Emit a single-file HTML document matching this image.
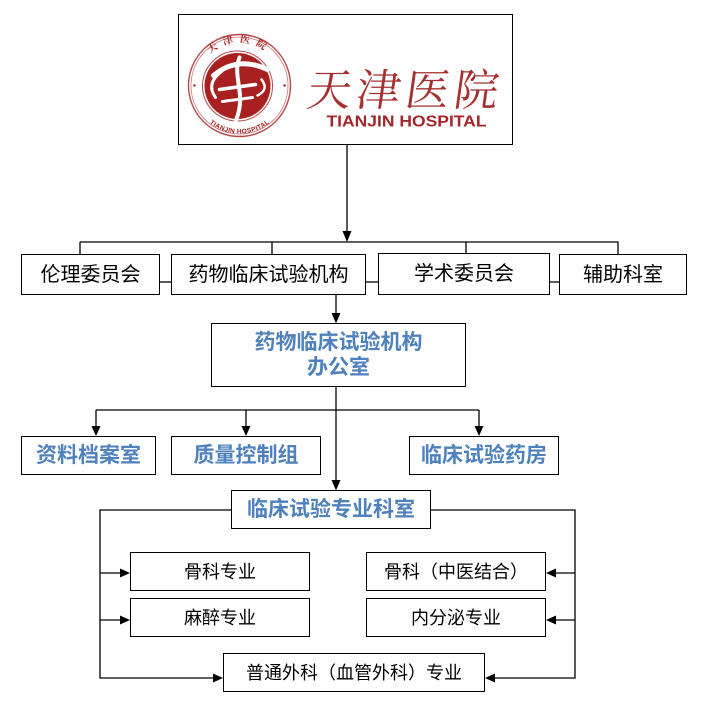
<!DOCTYPE html>
<html>
<head>
<meta charset="utf-8">
<style>
  html,body{margin:0;padding:0;background:#fff;}
  body{width:712px;height:710px;position:relative;overflow:hidden;font-family:"Liberation Sans","Noto Sans CJK SC",sans-serif;}
  .b{position:absolute;box-sizing:border-box;border:1.5px solid #000;background:#fff;display:flex;align-items:center;justify-content:center;line-height:1;color:#000;white-space:nowrap;}
  .t1{font-size:20px;}
  .blue{color:#4f81bd;font-weight:bold;font-size:21px;}
  .t3{font-size:18px;}
  svg.lines{position:absolute;left:0;top:0;}
</style>
</head>
<body>
<svg class="lines" width="712" height="710" viewBox="0 0 712 710">
  <g stroke="#000" stroke-width="1.3" fill="none">
    <line x1="347" y1="145" x2="347" y2="233"/>
    <line x1="80" y1="242" x2="618.5" y2="242"/>
    <line x1="80" y1="242" x2="80" y2="254"/>
    <line x1="272" y1="242" x2="272" y2="254"/>
    <line x1="466" y1="242" x2="466" y2="254"/>
    <line x1="618" y1="242" x2="618" y2="254"/>
    <line x1="160" y1="282" x2="171" y2="282"/>
    <line x1="366" y1="282" x2="378" y2="282"/>
    <line x1="550" y1="282" x2="559" y2="282"/>
    <line x1="336" y1="295" x2="336" y2="315"/>
    <line x1="336" y1="387" x2="336" y2="482"/>
    <line x1="96" y1="410" x2="479" y2="410"/>
    <line x1="96" y1="410" x2="96" y2="428"/>
    <line x1="246" y1="410" x2="246" y2="428"/>
    <line x1="479" y1="410" x2="479" y2="428"/>
    <polyline points="231,510 100,510 100,678 215,678"/>
    <line x1="100" y1="573" x2="122" y2="573"/>
    <line x1="100" y1="620" x2="122" y2="620"/>
    <polyline points="431,510 575,510 575,678 493,678"/>
    <line x1="575" y1="573" x2="554" y2="573"/>
    <line x1="575" y1="620" x2="554" y2="620"/>
  </g>
  <g fill="#000">
    <polygon points="342.5,231 351.5,231 347,242"/>
    <polygon points="331.5,313 340.5,313 336,323.5"/>
    <polygon points="331.5,480 340.5,480 336,490.5"/>
    <polygon points="91.5,426 100.5,426 96,436"/>
    <polygon points="241.5,426 250.5,426 246,436"/>
    <polygon points="474.5,426 483.5,426 479,436"/>
    <polygon points="120,568.5 120,577.5 130,573"/>
    <polygon points="120,615.5 120,624.5 130,620"/>
    <polygon points="213,673.5 213,682.5 223,678"/>
    <polygon points="556,568.5 556,577.5 546,573"/>
    <polygon points="556,615.5 556,624.5 546,620"/>
    <polygon points="495,673.5 495,682.5 485,678"/>
  </g>
</svg>

<!-- Logo box -->
<div class="b" style="left:178px;top:14px;width:335px;height:131px;border-width:1.5px;">
  <svg width="332" height="128" viewBox="179.5 15.5 332 128" style="position:absolute;left:0;top:0;">
    <defs>
      <path id="arcTop" d="M 197 86 A 43 43 0 0 1 283 86"/>
      <path id="arcBot" d="M 196 86 A 44 44 0 0 0 284 86"/>
    </defs>
    <circle cx="240" cy="86" r="51" fill="none" stroke="#b8474a" stroke-width="1.4"/>
    <circle cx="240" cy="86" r="48.5" fill="none" stroke="#c9787a" stroke-width="0.8"/>
    <circle cx="238" cy="86.5" r="33" fill="#a8201f"/>
    <circle cx="238" cy="86.5" r="35" fill="none" stroke="#b8474a" stroke-width="1"/>
    <text font-family="Liberation Serif, 'Noto Serif CJK SC', serif" font-size="10" fill="#a8201f" font-weight="bold">
      <textPath href="#arcTop" startOffset="50%" text-anchor="middle" letter-spacing="6">天津医院</textPath>
    </text>
    <text font-family="Liberation Sans, sans-serif" font-size="6.5" fill="#a8201f" font-weight="bold">
      <textPath href="#arcBot" startOffset="50%" text-anchor="middle" dominant-baseline="hanging">TIANJIN HOSPITAL</textPath>
    </text>
    <circle cx="195" cy="86" r="1.2" fill="#a8201f"/>
    <circle cx="285" cy="86" r="1.2" fill="#a8201f"/>
    <g stroke="#fff" fill="none" stroke-linecap="round">
      <path d="M 214 76 Q 238 56 268 70" stroke-width="5"/>
      <path d="M 240 58 C 232 78, 248 94, 236 122" stroke-width="4"/>
      <path d="M 220 90 L 256 85" stroke-width="3.5"/>
      <path d="M 223 102 L 253 98" stroke-width="3"/>
      <path d="M 216 98 Q 206 84 222 72" stroke-width="3"/>
      <path d="M 258 96 Q 270 90 262 80" stroke-width="2.5"/>
    </g>
    <text x="307" y="106" font-family="'Noto Serif CJK SC', serif" font-weight="normal" font-size="44" fill="#a5302f" letter-spacing="5" transform="skewX(-8) translate(14,0)">天津医院</text>
    <text x="327" y="127" font-family="Liberation Sans, sans-serif" font-weight="bold" font-size="16" fill="#a3262a" textLength="160" lengthAdjust="spacingAndGlyphs">TIANJIN HOSPITAL</text>
  </svg>
</div>

<!-- Row 1 -->
<div class="b t1" style="left:21px;top:254px;width:139px;height:41px;">伦理委员会</div>
<div class="b t1" style="left:171px;top:254px;width:195px;height:41px;">药物临床试验机构</div>
<div class="b t1" style="left:378px;top:253px;width:172px;height:42px;">学术委员会</div>
<div class="b t1" style="left:559px;top:254px;width:128px;height:41px;">辅助科室</div>

<!-- Office -->
<div class="b blue" style="left:211px;top:323px;width:255px;height:64px;flex-direction:column;line-height:25px;">
  <div>药物临床试验机构</div>
  <div>办公室</div>
</div>

<!-- Row 3 -->
<div class="b blue" style="left:21px;top:436px;width:135px;height:39px;">资料档案室</div>
<div class="b blue" style="left:171px;top:436px;width:150px;height:39px;">质量控制组</div>
<div class="b blue" style="left:409px;top:436px;width:150px;height:39px;">临床试验药房</div>

<!-- Specialty dept -->
<div class="b blue" style="left:231px;top:490px;width:200px;height:39px;">临床试验专业科室</div>

<!-- Bottom -->
<div class="b t3" style="left:130px;top:552px;width:180px;height:39px;">骨科专业</div>
<div class="b t3" style="left:130px;top:598px;width:180px;height:39px;">麻醉专业</div>
<div class="b t3" style="left:366px;top:552px;width:180px;height:39px;">骨科（中医结合）</div>
<div class="b t3" style="left:366px;top:598px;width:180px;height:39px;">内分泌专业</div>
<div class="b t3" style="left:223px;top:653px;width:262px;height:39px;">普通外科（血管外科）专业</div>
</body>
</html>
